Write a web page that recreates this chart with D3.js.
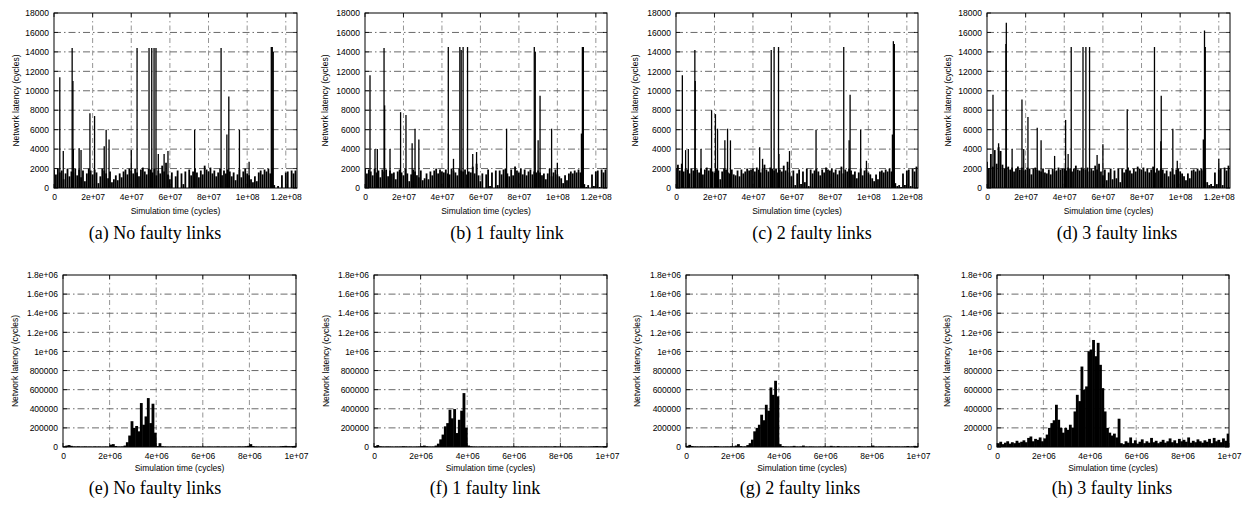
<!DOCTYPE html>
<html>
<head>
<meta charset="utf-8">
<script src="https://cdn.jsdelivr.net/npm/d3@7/dist/d3.min.js"></script>
<style>
  body { margin: 0; background: #fff; }
  svg text { font-family: "Liberation Sans", Arial, sans-serif; fill: #000; }
  .caption { font-family: "Liberation Serif", "Times New Roman", serif; font-size: 18px; }
</style>
</head>
<body>
<div id="chart"></div>
<script>
// ---------------- data ----------------
// top row: latency sampled every 1e6 cycles (background) + the tall isolated spikes
var stepTop = 1e6;
var baseA = [1900,1400,2000,1600,1800,900,1500,2000,1200,1700,
  1600,2000,1300,1900,1100,1800,700,1500,2000,1800,
  1400,1900,1600,500,1200,2000,1800,1500,1000,1700,
  600,900,1300,800,1500,1100,1700,1900,1400,2000,
  1800,1500,2000,1600,1200,1900,2100,1700,1400,2000,
  1900,1600,2000,1300,1800,1500,2300,1700,2600,1400,
  900,1600,0,1200,1800,0,1500,400,1700,0,
  1900,1300,1700,2000,1600,1100,1800,1400,2300,1900,
  1700,2100,1500,1800,1200,1600,2000,1300,1800,1500,
  1900,1700,1200,1600,800,1400,1900,1100,1700,2000,
  1500,1300,900,600,1200,700,1600,1800,1400,1900,
  1700,2000,1500,2000,300,0,200,0,1300,0,
  1600,1700,0,1800,1500,1800];
var baseB = [2000,1500,1900,1700,1300,2000,1600,1800,1100,1900,
  1700,1900,1200,1800,1500,1600,900,1700,1900,1600,
  1300,2000,1500,700,1400,1900,1700,1300,1100,1800,
  800,1000,1500,900,1700,1300,1800,2000,1500,1900,
  1700,1600,1900,1500,1400,2000,1800,1600,1300,2000,
  1800,1700,1900,1400,1700,1600,2200,1500,2500,1300,
  700,1500,0,1400,1900,200,1600,0,1800,300,
  1800,1400,1900,2000,1500,1200,1900,1300,2200,1800,
  1600,2000,1400,1900,1300,1700,1900,1400,1700,1600,
  1800,1600,1300,1500,900,1500,2000,1200,1600,1900,
  1400,1200,1000,500,1300,800,1500,1700,1500,1800,
  1600,1900,1600,2000,400,100,300,0,1400,200,
  1700,1800,100,1900,1600,1900];
var baseC = [2000,2400,1800,2500,1700,2000,1900,1500,2000,1800,
  2000,1900,1600,2000,1400,1900,2100,1800,2000,1700,
  1600,2000,1800,900,1700,2000,1900,1600,1500,1900,
  1400,1300,1800,1200,1900,1500,1700,2000,1800,1900,
  2000,1700,2100,1900,1600,2000,2400,1900,1700,2100,
  2000,1800,2000,1600,1900,1700,2300,1800,2700,1600,
  1200,1800,300,1500,1900,400,1700,600,2000,200,
  1900,1500,1800,2000,1700,1300,1900,1600,2100,1900,
  1800,2000,1600,1900,1400,1800,2200,1500,1900,1700,
  2000,1800,1400,1700,1000,1600,2000,1300,1800,1900,
  1600,1400,1000,700,1400,900,1700,1800,1600,1900,
  1700,2000,1700,2000,500,200,300,100,1500,300,
  1800,1900,200,2000,1700,2200];
var baseD = [2700,2000,3500,2200,3900,2500,4200,3800,2400,2000,
  2100,2200,1900,2100,1700,2000,2200,1900,2100,1800,
  1900,2100,2000,1400,2000,2100,1900,1800,1700,2000,
  1600,1500,1900,1400,2000,1700,1800,2100,1900,2000,
  2000,1800,2100,2000,1700,2000,2300,1900,1800,2100,
  2000,1900,2100,1700,2000,1800,2300,1900,2500,1700,
  1300,1900,800,1600,2000,900,1800,1000,2000,600,
  2000,1600,1900,2100,1800,1500,2000,1700,2200,2000,
  1900,2100,1700,2000,1600,1900,2200,1600,2000,1800,
  2000,1900,1500,1800,1200,1700,2000,1400,1900,2000,
  1700,1500,1200,800,1500,1000,1800,1900,1700,2000,
  1800,2000,1800,2000,600,300,400,200,1600,400,
  1900,2000,300,2100,1800,2300];

// [time, latency]
var spikesA = [[3e6,11400],[4.8e6,3800],[9.4e6,14400],[9.8e6,11000],[1.0e7,4000],[1.3e7,4100],[1.4e7,3900],
  [1.86e7,7700],[2.1e7,7400],[2.6e7,4300],[2.7e7,6000],[2.85e7,5000],[4.0e7,3900],[4.3e7,14400],
  [4.92e7,14400],[5.06e7,14400],[5.18e7,14400],[5.28e7,14400],[5.4e7,3500],[5.7e7,3500],[5.9e7,3800],
  [7.28e7,6000],[8.65e7,14400],[8.95e7,5500],[9.05e7,9400],[9.6e7,6000],[1.01e8,2700],
  [1.125e8,14500],[1.13e8,14500],[1.135e8,14000]];
var spikesB = [[2.6e6,11600],[5.2e6,4000],[6.4e6,4000],[9.9e6,14400],[1.02e7,8500],[1.3e7,4000],
  [1.85e7,7800],[2.13e7,7500],[2.45e7,4600],[2.6e7,6100],[2.8e7,5000],[4.33e7,14500],[4.6e7,3000],
  [4.93e7,14500],[5.0e7,14200],[5.1e7,14500],[5.33e7,14500],[5.6e7,3500],[5.8e7,3700],[7.36e7,6100],
  [8.8e7,14500],[8.85e7,14000],[9.0e7,4900],[9.1e7,9500],[9.7e7,6100],[1.0e8,2600],
  [1.125e8,5600],[1.13e8,14500],[1.135e8,14500]];
var spikesC = [[3.3e6,11600],[5e6,3900],[6.4e6,4000],[9.8e6,14200],[1.0e7,11000],[1.3e7,4000],
  [1.85e7,8000],[2.05e7,7600],[2.16e7,6100],[2.54e7,4900],[2.68e7,6100],[2.83e7,4900],[4.35e7,4200],
  [4.5e7,3000],[4.95e7,14200],[5.1e7,14500],[5.33e7,14500],[5.35e7,3500],[5.9e7,3800],[7.28e7,6000],
  [8.72e7,14500],[9.0e7,4900],[9.05e7,9600],[9.6e7,6000],[9.9e7,2800],
  [1.125e8,5500],[1.13e8,15100],[1.135e8,14800]];
var spikesD = [[3.1e6,9600],[6e6,4600],[7e6,3800],[9.8e6,14800],[1.0e7,17000],[1.3e7,4000],
  [1.81e7,9100],[1.9e7,4000],[2.12e7,7300],[2.6e7,6200],[2.8e7,4900],[3.5e7,3300],[4.07e7,7000],
  [4.2e7,3500],[4.36e7,14500],[4.97e7,14500],[5.12e7,14500],[5.31e7,14500],[5.7e7,3400],[6.0e7,4500],
  [7.26e7,8100],[8.67e7,14500],[9.0e7,4800],[9.02e7,9500],[9.62e7,6100],[9.85e7,2800],
  [1.12e8,5000],[1.126e8,16200],[1.13e8,14500],[1.2e8,3000]];

// bottom row: latency sampled every 1e5 cycles
var stepBottom = 1e5;
var burstE = [8000,15000,20000,12000,6000,5000,7000,4000,5000,6000,
  4000,5000,3000,6000,4000,5000,3000,4000,5000,3000,
  25000,30000,10000,5000,4000,6000,15000,50000,120000,270000,
  200000,220000,164000,460000,233000,320000,512000,250000,453000,150000,
  10000,40000,8000,5000,4000,3000,4000,5000,3000,4000,
  3000,5000,4000,3000,6000,4000,3000,5000,4000,3000,
  4000,3000,5000,4000,3000,4000,6000,3000,4000,5000,
  3000,4000,5000,3000,4000,6000,4000,5000,8000,12000,
  30000,10000,5000,4000,3000,5000,4000,3000,6000,4000,
  5000,3000,4000,8000,10000,12000,9000,8000,10000,12000];
var burstF = [10000,20000,8000,5000,4000,6000,5000,4000,3000,5000,
  4000,5000,8000,6000,4000,5000,3000,4000,5000,6000,
  10000,15000,8000,5000,4000,5000,15000,35000,80000,130000,
  216000,250000,390000,300000,397000,146000,285000,380000,564000,200000,
  15000,8000,5000,4000,3000,4000,5000,4000,3000,5000,
  4000,3000,5000,4000,6000,3000,4000,5000,3000,4000,
  5000,4000,3000,6000,4000,5000,3000,4000,5000,4000,
  3000,5000,4000,6000,5000,4000,3000,8000,5000,4000,
  6000,4000,3000,5000,4000,3000,5000,4000,6000,5000,
  4000,3000,5000,6000,8000,10000,7000,6000,8000,10000];
var burstG = [12000,22000,10000,6000,5000,4000,6000,5000,4000,5000,
  6000,5000,10000,8000,5000,4000,5000,6000,5000,8000,
  6000,15000,30000,10000,5000,6000,20000,40000,77000,164000,
  200000,233000,338000,280000,442000,380000,623000,546000,693000,530000,
  30000,10000,6000,5000,4000,6000,12000,5000,4000,6000,
  15000,5000,4000,6000,5000,4000,3000,5000,4000,6000,
  4000,5000,12000,6000,4000,10000,5000,4000,6000,5000,
  4000,6000,5000,4000,10000,6000,5000,4000,8000,6000,
  15000,5000,4000,6000,5000,4000,6000,8000,5000,4000,
  6000,5000,4000,5000,6000,10000,5000,6000,12000,8000];
var burstH = [40000,55000,30000,45000,60000,35000,50000,40000,65000,45000,
  55000,70000,50000,95000,110000,60000,85000,75000,100000,60000,
  90000,130000,200000,250000,280000,442000,285000,200000,150000,200000,
  180000,233000,200000,372000,546000,480000,842000,600000,634000,1000000,
  1020000,1120000,950000,1090000,860000,616000,372000,200000,150000,120000,
  140000,100000,296000,40000,30000,60000,45000,100000,40000,70000,
  35000,55000,80000,40000,60000,45000,95000,50000,65000,40000,
  55000,75000,45000,60000,90000,50000,70000,40000,85000,60000,
  75000,55000,100000,45000,65000,50000,80000,60000,45000,70000,
  55000,85000,40000,95000,60000,75000,50000,90000,65000,140000];

var topXTicks = [0, 2e7, 4e7, 6e7, 8e7, 1e8, 1.2e8];
var topXLabels = ["0", "2e+07", "4e+07", "6e+07", "8e+07", "1e+08", "1.2e+08"];
var topYTicks = [0, 2000, 4000, 6000, 8000, 10000, 12000, 14000, 16000, 18000];
var topYLabels = ["0", "2000", "4000", "6000", "8000", "10000", "12000", "14000", "16000", "18000"];
var botXTicks = [0, 2e6, 4e6, 6e6, 8e6, 1e7];
var botXLabels = ["0", "2e+06", "4e+06", "6e+06", "8e+06", "1e+07"];
var botYTicks = [0, 2e5, 4e5, 6e5, 8e5, 1e6, 1.2e6, 1.4e6, 1.6e6, 1.8e6];
var botYLabels = ["0", "200000", "400000", "600000", "800000", "1e+06", "1.2e+06", "1.4e+06", "1.6e+06", "1.8e+06"];

var topCaptions = ["(a) No faulty links", "(b) 1 faulty link", "(c) 2 faulty links", "(d) 3 faulty links"];
var botCaptions = ["(e) No faulty links", "(f) 1 faulty link", "(g) 2 faulty links", "(h) 3 faulty links"];

// ---------------- layout ----------------
var W = 1242, H = 511;
var topRow = { top: 13, bottom: 188, lefts: [54, 365, 676, 987], rights: [297, 607, 918, 1230],
  capX: [155, 507, 812, 1117], capY: 239, ylabX: [16, 325, 635, 948], titleY: 214, xmax: 1.258e8, ymax: 18000 };
var botRow = { top: 275, bottom: 447, lefts: [63, 374, 686, 997], rights: [296, 607, 918, 1229],
  capX: [155, 485, 800, 1112], capY: 494, ylabX: [15, 326, 637, 947], titleY: 471, xmax: 1e7, ymax: 1.8e6 };

var svg = d3.select("#chart").append("svg")
  .attr("width", W).attr("height", H);

var clipId = 0;

function drawPanel(row, k, xTicks, xLabels, yTicks, yLabels, caption, drawMarks) {
  var l = row.lefts[k], r = row.rights[k], t = row.top, b = row.bottom;
  var x = d3.scaleLinear().domain([0, row.xmax]).range([l, r]);
  var y = d3.scaleLinear().domain([0, row.ymax]).range([b, t]);
  var g = svg.append("g");

  // grid (gnuplot style dash-dot)
  g.append("g").selectAll("line.gy").data(yTicks.slice(1, -1)).enter().append("line")
    .attr("x1", l).attr("x2", r)
    .attr("y1", function(d) { return y(d); }).attr("y2", function(d) { return y(d); })
    .attr("stroke", "#444").attr("stroke-width", 0.8).attr("stroke-dasharray", "7,3,1.5,3");
  g.append("g").selectAll("line.gx").data(xTicks.slice(1).filter(function(d) { return d < row.xmax; })).enter().append("line")
    .attr("y1", t).attr("y2", b)
    .attr("x1", function(d) { return x(d); }).attr("x2", function(d) { return x(d); })
    .attr("stroke", "#666").attr("stroke-width", 0.7).attr("stroke-dasharray", "5,3,1.5,3");

  // marks, clipped to the frame
  clipId++;
  svg.append("clipPath").attr("id", "clip" + clipId)
    .append("rect").attr("x", l).attr("y", t).attr("width", r - l).attr("height", b - t);
  var m = g.append("g").attr("clip-path", "url(#clip" + clipId + ")");
  drawMarks(m, x, y);

  // inward ticks on all four sides
  var tk = g.append("g").attr("stroke", "#000").attr("stroke-width", 0.8);
  xTicks.forEach(function(d) {
    tk.append("line").attr("x1", x(d)).attr("x2", x(d)).attr("y1", b).attr("y2", b - 4);
    tk.append("line").attr("x1", x(d)).attr("x2", x(d)).attr("y1", t).attr("y2", t + 4);
  });
  yTicks.forEach(function(d) {
    tk.append("line").attr("y1", y(d)).attr("y2", y(d)).attr("x1", l).attr("x2", l + 4);
    tk.append("line").attr("y1", y(d)).attr("y2", y(d)).attr("x1", r).attr("x2", r - 4);
  });

  // frame
  g.append("rect").attr("x", l).attr("y", t).attr("width", r - l).attr("height", b - t)
    .attr("fill", "none").attr("stroke", "#000").attr("stroke-width", 1);

  // axes (labels only)
  var xa = g.append("g").attr("transform", "translate(0," + b + ")")
    .call(d3.axisBottom(x).tickValues(xTicks).tickFormat(function(d, i) { return xLabels[i]; })
      .tickSize(0).tickPadding(6));
  var ya = g.append("g").attr("transform", "translate(" + l + ",0)")
    .call(d3.axisLeft(y).tickValues(yTicks).tickFormat(function(d, i) { return yLabels[i]; })
      .tickSize(0).tickPadding(5));
  [xa, ya].forEach(function(a) {
    a.select(".domain").remove();
    a.selectAll("text").attr("font-size", "8.5px").attr("font-family", "Liberation Sans, Arial, sans-serif");
  });

  g.append("text").attr("x", (l + r) / 2).attr("y", row.titleY)
    .attr("text-anchor", "middle").attr("font-size", "8.5px")
    .text("Simulation time (cycles)");
  g.append("text")
    .attr("transform", "translate(" + row.ylabX[k] + "," + ((t + b) / 2) + ") rotate(-90)")
    .attr("text-anchor", "middle").attr("dominant-baseline", "central").attr("font-size", "8.5px")
    .text("Network latency (cycles)");

  g.append("text").attr("class", "caption").attr("x", row.capX[k]).attr("y", row.capY)
    .attr("text-anchor", "middle").text(caption);
}

// top row: impulses
var topBases = [baseA, baseB, baseC, baseD];
var topSpikes = [spikesA, spikesB, spikesC, spikesD];
topBases.forEach(function(base, k) {
  drawPanel(topRow, k, topXTicks, topXLabels, topYTicks, topYLabels, topCaptions[k], function(m, x, y) {
    m.selectAll("line.base").data(base).enter().append("line")
      .attr("x1", function(d, i) { return x(i * stepTop); })
      .attr("x2", function(d, i) { return x(i * stepTop); })
      .attr("y1", y(0)).attr("y2", function(d) { return y(d); })
      .attr("stroke", "#000").attr("stroke-width", 1.8);
    m.selectAll("line.spike").data(topSpikes[k]).enter().append("line")
      .attr("x1", function(d) { return x(d[0]); }).attr("x2", function(d) { return x(d[0]); })
      .attr("y1", y(0)).attr("y2", function(d) { return y(d[1]); })
      .attr("stroke", "#000").attr("stroke-width", 1.3);
  });
});

// bottom row: dense impulses drawn as touching bars
var botSeries = [burstE, burstF, burstG, burstH];
botSeries.forEach(function(vals, k) {
  drawPanel(botRow, k, botXTicks, botXLabels, botYTicks, botYLabels, botCaptions[k], function(m, x, y) {
    var bw = x(stepBottom) - x(0);
    m.selectAll("rect.bar").data(vals).enter().append("rect")
      .attr("x", function(d, i) { return x(i * stepBottom); })
      .attr("width", bw + 0.5)
      .attr("y", function(d) { return y(d); })
      .attr("height", function(d) { return y(0) - y(d); })
      .attr("fill", "#000");
  });
});
</script>
</body>
</html>
